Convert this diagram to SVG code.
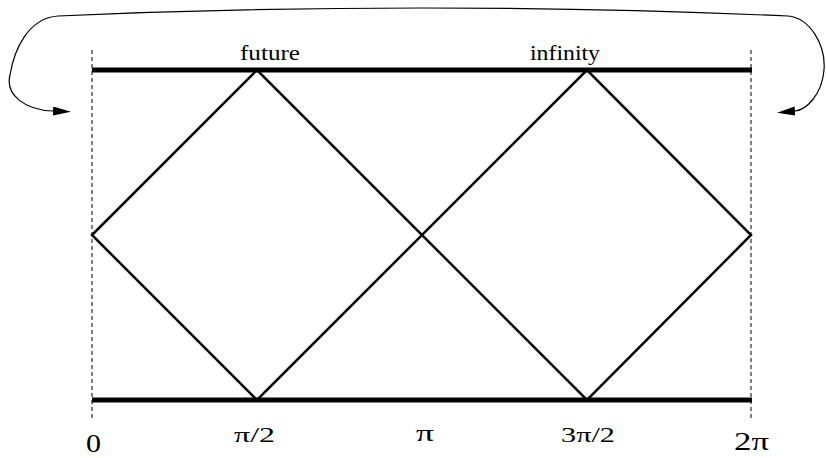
<svg xmlns="http://www.w3.org/2000/svg" width="826" height="458" viewBox="0 0 826 458">
<style>
.bg{fill:#ffffff}
.dash{stroke:#000;stroke-width:1;stroke-dasharray:4,3;fill:none}
.thick{stroke:#000;stroke-width:5;fill:none}
.edge{stroke:#000;stroke-width:2.5;fill:none;stroke-linejoin:miter}
.curve{stroke:#000;stroke-width:1.2;fill:none}
text{font-family:"Liberation Serif","Times New Roman",serif;font-size:22px;fill:#000}
</style>
<defs>
<marker id="arr" markerUnits="userSpaceOnUse" markerWidth="20" markerHeight="10" refX="0" refY="4.5" orient="auto-start-reverse">
<path d="M0,0 L18,4.5 L0,9 z" fill="#000"/>
</marker>
</defs>
<rect class="bg" x="0" y="0" width="826" height="458"/>
<g id="boundaries">
<line class="dash" x1="92" y1="50" x2="92" y2="420"/>
<line class="dash" x1="751" y1="50" x2="751" y2="420"/>
<line class="thick" x1="92" y1="70" x2="752" y2="70"/>
<line class="thick" x1="92" y1="400" x2="752" y2="400"/>
</g>
<g id="diamonds">
<path class="edge" d="M92,235 L257,70 L587,400 L751,235 L587,70 L257,400 Z"/>
</g>
<g id="connectors">
<path class="curve" d="M53,111 C25,110 5,95 10,75 C14,50 28,18 58,16 Q422,0 788,16 C810,18 826,45 824,70 C822,95 806,110 795,111" marker-start="url(#arr)" marker-end="url(#arr)"/>
</g>
<g id="labels">
<text x="240" y="60" textLength="60" lengthAdjust="spacingAndGlyphs">future</text>
<text x="530" y="60" textLength="70" lengthAdjust="spacingAndGlyphs">infinity</text>
<text x="86" y="452" style="font-size:25px" textLength="15" lengthAdjust="spacingAndGlyphs">0</text>
<text x="234" y="442" textLength="41" lengthAdjust="spacingAndGlyphs">π/2</text>
<text x="416" y="441" style="font-size:24px" textLength="18" lengthAdjust="spacingAndGlyphs">π</text>
<text x="561" y="442" textLength="54" lengthAdjust="spacingAndGlyphs">3π/2</text>
<text x="734" y="450" style="font-size:25px" textLength="35" lengthAdjust="spacingAndGlyphs">2π</text>
</g>
</svg>
